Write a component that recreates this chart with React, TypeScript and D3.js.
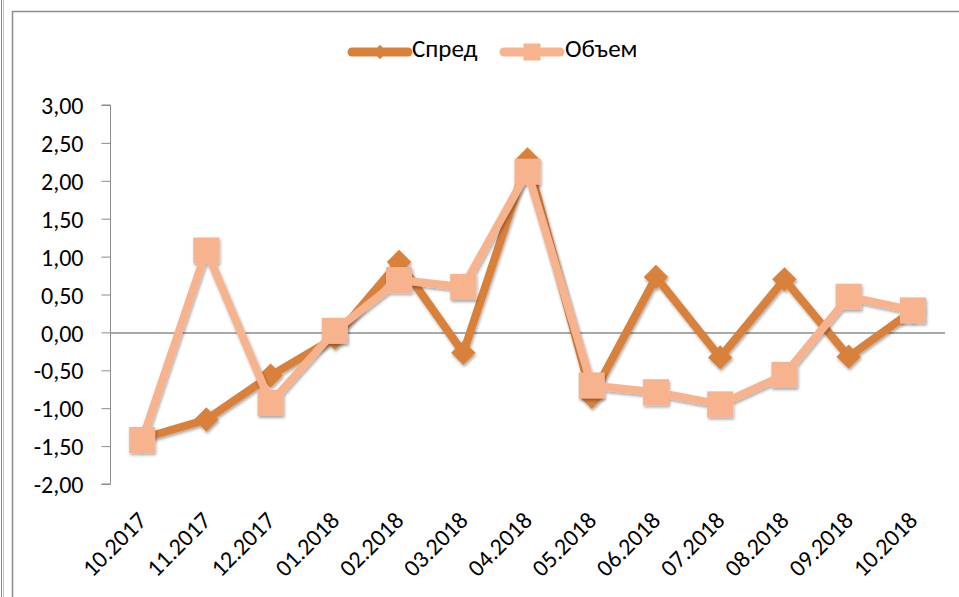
import React, { useRef, useEffect } from "react";
import * as d3 from "d3";

// chart values
const months = ["10.2017", "11.2017", "12.2017", "01.2018", "02.2018", "03.2018", "04.2018",
  "05.2018", "06.2018", "07.2018", "08.2018", "09.2018", "10.2018"];
const spread = [-1.40, -1.15, -0.57, -0.07, 0.93, -0.27, 2.28, -0.85, 0.73, -0.33, 0.70, -0.32, 0.29];
const volume = [-1.42, 1.08, -0.93, 0.02, 0.69, 0.60, 2.12, -0.70, -0.79, -0.95, -0.56, 0.47, 0.29];
const yTicks = [3, 2.5, 2, 1.5, 1, 0.5, 0, -0.5, -1, -1.5, -2];

const SPREAD_COLOR = "#D9803B";
const VOLUME_COLOR = "#F7B38D";
const FONT = "Carlito, 'Open Sans', sans-serif";

function App() {
    const svgRef = useRef<SVGSVGElement>(null);

    useEffect(() => {
        const w = 959;
        const h = 597;
        const svg = d3.select(svgRef.current);
        svg.selectAll("*").remove();
        svg.attr("width", w).attr("height", h);

        const defs = svg.append("defs");
        const f = defs.append("filter").attr("id", "shadow")
            .attr("x", "-20%").attr("y", "-20%").attr("width", "140%").attr("height", "140%");
        f.append("feDropShadow").attr("dx", 1).attr("dy", 2)
            .attr("stdDeviation", 1.5).attr("flood-color", "#000").attr("flood-opacity", 0.35);

        // frame
        const frame = svg.append("g").attr("stroke", "#8c8c8c").attr("fill", "none");
        frame.append("line").attr("x1", 1.5).attr("x2", 1.5).attr("y1", 0).attr("y2", h);
        frame.append("line").attr("x1", 3.5).attr("x2", 3.5).attr("y1", 0).attr("y2", h).attr("stroke", "#c8c8c8");
        frame.append("line").attr("x1", 12.5).attr("x2", 12.5).attr("y1", 11).attr("y2", h).attr("stroke-width", 1.5);
        frame.append("line").attr("x1", 12).attr("x2", w).attr("y1", 11.5).attr("y2", 11.5).attr("stroke-width", 1.5);

        // scales
        const x = d3.scaleBand().domain(months).range([110, 945]);
        const cx = (m: string) => (x(m) as number) + x.bandwidth() / 2;
        const y = d3.scaleLinear().domain([-2, 3]).range([484, 105]);

        // y axis
        const yAxis = d3.axisLeft(y).tickValues(yTicks).tickSize(9)
            .tickFormat((d) => d3.format(".2f")(d as number).replace(".", ",").replace("−", "-"));
        const ga = svg.append("g").attr("transform", "translate(110.5,0)").call(yAxis);
        ga.select(".domain").attr("stroke", "#8c8c8c").attr("d", `M-9,${y(3)}H0V${y(-2)}H-9`);
        ga.selectAll(".tick line").attr("stroke", "#8c8c8c");
        ga.selectAll(".tick text").attr("x", -27).attr("dy", "0.36em")
            .style("font-family", FONT).style("font-size", "24px").attr("fill", "#000");

        // zero line
        svg.append("line").attr("x1", 110).attr("x2", 945)
            .attr("y1", y(0) + 0.5).attr("y2", y(0) + 0.5).attr("stroke", "#8c8c8c").attr("stroke-width", 1.5);

        // x labels
        svg.append("g").selectAll("text").data(months).join("text")
            .attr("transform", (d) => `translate(${cx(d) + 6},${522}) rotate(-45)`)
            .attr("text-anchor", "end")
            .style("font-family", FONT).style("font-size", "24px")
            .text((d) => d);

        const diamond = d3.symbol().type(d3.symbolDiamond2).size(380);
        const square = d3.symbol().type(d3.symbolSquare).size(680);

        const series = [
            { vals: spread, color: SPREAD_COLOR, width: 8, sym: diamond },
            { vals: volume, color: VOLUME_COLOR, width: 8, sym: square },
        ];
        series.forEach((s) => {
            const g = svg.append("g").attr("filter", "url(#shadow)");
            const line = d3.line<number>().x((d, i) => cx(months[i])).y((d) => y(d));
            g.append("path").datum(s.vals).attr("d", line)
                .attr("fill", "none").attr("stroke", s.color).attr("stroke-width", s.width)
                .attr("stroke-linejoin", "round");
            g.selectAll(".m").data(s.vals).join("path")
                .attr("d", s.sym)
                .attr("transform", (d, i) => `translate(${cx(months[i])},${y(d)})`)
                .attr("fill", s.color);
        });

        // legend
        const legend = [
            { name: "Спред", color: SPREAD_COLOR, sym: d3.symbol().type(d3.symbolDiamond2).size(130), x0: 352, x1: 408, tx: 412 },
            { name: "Объем", color: VOLUME_COLOR, sym: d3.symbol().type(d3.symbolSquare).size(290), x0: 504, x1: 560, tx: 565 },
        ];
        legend.forEach((l) => {
            const g = svg.append("g");
            g.append("line").attr("x1", l.x0).attr("x2", l.x1).attr("y1", 52).attr("y2", 52)
                .attr("stroke", l.color).attr("stroke-width", 9).attr("stroke-linecap", "round");
            g.append("path").attr("d", l.sym).attr("transform", `translate(${(l.x0 + l.x1) / 2},52)`).attr("fill", l.color);
            g.append("text").attr("x", l.tx).attr("y", 57)
                .style("font-family", FONT).style("font-size", "25px").text(l.name);
        });
    }, []);

    return (
        <div style={{ position: "absolute", left: 0, top: 0 }}>
            <svg ref={svgRef}></svg>
        </div>
    );
}

export default App;
